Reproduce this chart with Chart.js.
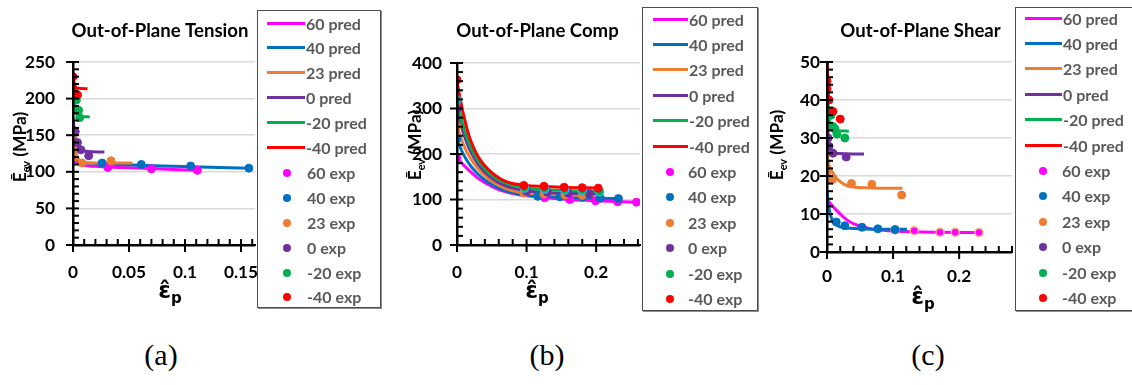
<!DOCTYPE html>
<html><head><meta charset="utf-8">
<script src="https://cdn.jsdelivr.net/npm/chart.js@4.4.1/dist/chart.umd.min.js"></script>
<style>
html,body{margin:0;padding:0;background:#fff;}
body{width:1132px;height:385px;position:relative;overflow:hidden;font-family:Lato,'DejaVu Sans',sans-serif;}
canvas.panel{position:absolute;top:0;}
.legend{position:absolute;background:#fff;border:1px solid #4d4d4d;box-shadow:1px 1px 0 #8c8c8c;box-sizing:border-box;overflow:hidden;}
.row{position:absolute;left:0;right:0;height:25px;}
.row .txt{position:absolute;top:0;line-height:25px;font-weight:bold;color:#595959;white-space:nowrap;}
.row .ln{position:absolute;top:11px;height:3px;}
.row .dot{position:absolute;top:9px;width:8px;height:8px;border-radius:50%;}
.caption{position:absolute;top:338px;font-family:'Liberation Serif','Times New Roman',serif;font-size:30px;transform:translateX(-50%);color:#000;}
</style></head><body>
<canvas id="cA" class="panel" width="380" height="320" style="left:0px"></canvas>
<canvas id="cB" class="panel" width="380" height="320" style="left:380px"></canvas>
<canvas id="cC" class="panel" width="372" height="320" style="left:760px"></canvas>
<div class="caption" style="left:161px">(a)</div>
<div class="caption" style="left:547px">(b)</div>
<div class="caption" style="left:928px">(c)</div>
<script>
// ---------- series names ----------
const seriesNames = ['60', '40', '23', '0', '-20', '-40'];

// ---------- (a) Out-of-Plane Tension ----------
const tensionPred60  = [[0,119],[0.003,113],[0.006,110],[0.01,108.5],[0.02,107.5],[0.031,106.5],[0.05,105.5],[0.07,104.5],[0.09,103],[0.111,102]];
const tensionPred40  = [[0,126],[0.002,120],[0.005,115],[0.01,112.5],[0.02,111.5],[0.04,110],[0.06,109],[0.08,108],[0.105,107],[0.157,105]];
const tensionPred23  = [[0,140],[0.002,128],[0.004,120],[0.008,113],[0.015,112],[0.053,112]];
const tensionPred0   = [[0,175],[0.001,160],[0.002,148],[0.004,136],[0.007,130],[0.012,128],[0.028,127]];
const tensionPredM20 = [[0,200],[0.001,190],[0.002,183],[0.004,177],[0.007,175.5],[0.015,175]];
const tensionPredM40 = [[0,230],[0.001,222],[0.002,216],[0.004,214],[0.013,213.5]];
const tensionExp60   = [[0,118],[0.031,106],[0.07,104],[0.111,102]];
const tensionExp40   = [[0.026,112],[0.061,110],[0.105,108],[0.157,105]];
const tensionExp23   = [[0,150],[0,134],[0.001,120],[0.008,112],[0.034,115]];
const tensionExp0    = [[0.002,155],[0.004,140],[0.007,130],[0.014,122]];
const tensionExpM20  = [[0.003,198],[0.005,184],[0.006,174]];
const tensionExpM40  = [[0,230],[0,214],[0.004,205]];
const tensionXTicks = [0, 0.05, 0.1, 0.15];
const tensionYTicks = [0, 50, 100, 150, 200, 250];

// ---------- (b) Out-of-Plane Comp ----------
const compPred60  = [[0,191],[0.005,183],[0.01,175],[0.02,160],[0.03,147],[0.04,137],[0.05,129],[0.06,122],[0.07,117],[0.08,113],[0.1,108],[0.12,105],[0.15,101],[0.2,97],[0.258,94]];
const compPred40  = [[0,233],[0.005,213],[0.01,197],[0.015,184],[0.02,173],[0.03,156],[0.04,143],[0.05,133],[0.06,125],[0.07,119],[0.08,115],[0.1,110],[0.12,107],[0.15,105],[0.2,103],[0.235,102]];
const compPred23  = [[0,262],[0.005,238],[0.01,218],[0.015,202],[0.02,189],[0.03,168],[0.04,152],[0.05,140],[0.06,131],[0.07,124],[0.08,119],[0.1,114],[0.12,112],[0.15,110],[0.2,109]];
const compPred0   = [[0,300],[0.005,268],[0.01,242],[0.015,221],[0.02,204],[0.03,178],[0.04,160],[0.05,147],[0.06,137],[0.07,130],[0.08,125],[0.1,119],[0.12,116],[0.15,114],[0.2,113]];
const compPredM20 = [[0,320],[0.005,285],[0.01,256],[0.015,233],[0.02,214],[0.03,186],[0.04,167],[0.05,153],[0.06,143],[0.07,136],[0.08,131],[0.1,125],[0.12,122],[0.15,120],[0.205,118]];
const compPredM40 = [[0,360],[0.005,318],[0.01,282],[0.015,252],[0.02,228],[0.03,195],[0.04,174],[0.05,159],[0.06,148],[0.07,140],[0.08,135],[0.1,131],[0.12,129],[0.15,127],[0.205,125]];
const compExp60  = [[0,191],[0.126,104],[0.162,100],[0.199,97],[0.231,95],[0.258,94]];
const compExp40  = [[0,233],[0.116,107],[0.148,106],[0.18,105],[0.206,103],[0.232,102]];
const compExp23  = [[0,261],[0.096,114],[0.125,112],[0.155,110],[0.18,109]];
const compExp0   = [[0,300],[0.1,118],[0.13,116],[0.16,114],[0.19,113]];
const compExpM20 = [[0,319],[0.097,125],[0.126,123],[0.155,121],[0.18,120],[0.205,117]];
const compExpM40 = [[0,363],[0.096,131],[0.125,129],[0.154,127],[0.18,126],[0.203,125]];
const compXTicks = [0, 0.1, 0.2];
const compYTicks = [0, 100, 200, 300, 400];

// ---------- (c) Out-of-Plane Shear ----------
const shearPred60  = [[0,14],[0.005,12.8],[0.01,11.8],[0.017,10.5],[0.025,9.2],[0.035,7.9],[0.045,7.1],[0.055,6.6],[0.07,6],[0.085,5.7],[0.1,5.5],[0.13,5.3],[0.17,5.2],[0.23,5.1]];
const shearPred40  = [[0,16],[0.002,12.5],[0.005,10],[0.008,8.3],[0.012,7.3],[0.02,6.6],[0.04,6.2],[0.08,6],[0.121,6]];
const shearPred23  = [[0,27],[0.002,23.5],[0.005,22],[0.01,20.5],[0.015,19.3],[0.02,18.5],[0.03,17.5],[0.04,17.1],[0.06,16.9],[0.08,16.8],[0.114,16.8]];
const shearPred0   = [[0,40],[0.001,33],[0.003,28],[0.006,26.5],[0.01,26],[0.056,25.8]];
const shearPredM20 = [[0,50],[0.001,44],[0.002,38],[0.004,34],[0.008,32.5],[0.015,32],[0.033,31.8]];
const shearPredM40 = [[0.0005,50],[0.001,46],[0.002,42],[0.003,40]];
const shearExp60  = [[0.103,5.8],[0.132,5.6],[0.171,5.2],[0.194,5.2],[0.23,5.1]];
const shearExp40  = [[0.014,7.9],[0.027,6.9],[0.053,6.5],[0.077,6.1],[0.103,5.9]];
const shearExp23  = [[0,21],[0.008,19],[0.037,18],[0.068,17.8],[0.113,15]];
const shearExp0   = [[0.0015,30],[0.003,27.8],[0.009,26],[0.029,25]];
const shearExpM20 = [[0.006,36],[0.009,33],[0.012,32.4],[0.015,31],[0.027,30]];
const shearExpM40 = [[0,45],[0,43],[0.003,40],[0.009,37],[0.02,35]];
const shearXTicks = [0, 0.1, 0.2];
const shearYTicks = [0, 10, 20, 30, 40, 50];

// ---------- styles ----------
const seriesColors = ['#FF00FF', '#0070C0', '#ED7D31', '#7030A0', '#00B050', '#FF0000'];
const FONT = "Lato, 'DejaVu Sans', sans-serif";

// fit font sizes to the widths measured on the reference
const mctx = document.createElement('canvas').getContext('2d');
function fitSize(text, weight, family, target){
  mctx.font = weight + ' 100px ' + family;
  return 100 * target / mctx.measureText(text).width;
}
const TICK_SIZE   = fitSize('250', 'bold', FONT, 30);
const TITLE_SIZE  = fitSize('Out-of-Plane Tension', 'bold', FONT, 177);
const LEGEND_SIZE = fitSize('60 pred', 'bold', FONT, 55);
const YT_SIZE     = fitSize('(MPa)', 'bold', FONT, 45);

function toXY(arr){ return arr.map(p => ({x: p[0], y: p[1]})); }

function buildDatasets(pred, exp, expBorders){
  const ds = [];
  pred.forEach((d, i) => ds.push({
    label: seriesNames[i] + ' pred', kind: 'pred', data: toXY(d), showLine: true,
    borderColor: seriesColors[i], backgroundColor: seriesColors[i], borderWidth: 3,
    pointRadius: 0, pointHoverRadius: 0, cubicInterpolationMode: 'monotone'
  }));
  exp.forEach((d, i) => ds.push({
    label: seriesNames[i] + ' exp', kind: 'exp', data: toXY(d), showLine: false,
    backgroundColor: seriesColors[i], borderColor: (expBorders && expBorders[i]) || seriesColors[i],
    borderWidth: (expBorders && expBorders[i]) ? 1.5 : 1, pointRadius: 4
  }));
  ds.forEach((d, i) => d.order = ds.length - i); // later series drawn on top (Excel order)
  return ds;
}

function drawRich(ctx, parts, cx, baseY){
  let w = 0;
  parts.forEach(p => { ctx.font = p.f; p.w = ctx.measureText(p.t).width; w += p.w; });
  let x = cx - w / 2;
  ctx.textAlign = 'left';
  parts.forEach(p => { ctx.font = p.f; ctx.fillText(p.t, x, baseY + (p.dy || 0)); x += p.w; });
}

function drawAxes(chart, cfg){
  const ctx = chart.ctx;
  const area = chart.chartArea;
  const xs = chart.scales.x, ys = chart.scales.y;
  const ax = Math.round(area.left), ay = Math.round(area.bottom), ar = area.right, at = area.top;
  ctx.save();
  ctx.fillStyle = '#000000';
  // axis lines
  ctx.fillRect(ax - 1, at - 1, 2.5, ay - at + 2);
  ctx.fillRect(ax - 1, ay - 1, ar - ax + 1, 2.5);
  // y axis: major ticks cross the axis, minor ticks inside
  const ny = Math.round(cfg.yMax / cfg.yMinor);
  for (let k = 0; k <= ny; k++) {
    const p = ys.getPixelForValue(k * cfg.yMinor);
    if (k % 5 === 0) ctx.fillRect(ax - 7, p - 1, 13, 2);
    else ctx.fillRect(ax, p - 1, 6, 2);
  }
  // x axis
  const nx = Math.floor(cfg.xMax / cfg.xMinor + 1e-6);
  for (let k = 0; k <= nx; k++) {
    const p = xs.getPixelForValue(k * cfg.xMinor);
    if (k % 5 === 0) ctx.fillRect(p - 1, ay - 6, 2, 13);
    else ctx.fillRect(p - 1, ay - 6, 2, 6);
  }
  ctx.restore();
}

function makeDecor(cfg){
  return {
    id: 'decor' + cfg.key,
    afterDatasetsDraw(chart){ drawAxes(chart, cfg); },
    afterDraw(chart){
      const ctx = chart.ctx;
      ctx.save();
      ctx.fillStyle = '#000000';
      ctx.textBaseline = 'middle';
      ctx.textAlign = 'center';
      ctx.font = 'bold ' + TITLE_SIZE + 'px ' + FONT;
      ctx.fillText(cfg.title, cfg.titlePos[0], cfg.titlePos[1]);
      ctx.textBaseline = 'alphabetic';
      ctx.save();
      ctx.translate(cfg.yTitle[0], cfg.yTitle[1]);
      ctx.rotate(-Math.PI / 2);
      drawRich(ctx, [
        {t: '\u0112', f: 'bold ' + YT_SIZE + 'px ' + FONT},
        {t: 'ev', f: 'bold ' + (YT_SIZE * 0.62) + 'px ' + FONT, dy: 4},
        {t: ' (MPa)', f: 'bold ' + YT_SIZE + 'px ' + FONT}
      ], 0, 6);
      ctx.restore();
      drawRich(ctx, [
        {t: '\u03B5\u0302', f: "bold 23px 'DejaVu Sans'"},
        {t: 'p', f: "bold 15px 'DejaVu Sans'", dy: 5}
      ], cfg.xTitle[0], cfg.xTitle[1] + 6);
      ctx.restore();
    }
  };
}

function tickFmt(v){ return String(+v.toFixed(4)); }

function makeChart(id, cfg){
  const canvas = document.getElementById(id);
  const W = canvas.width, H = canvas.height, xh = 50;
  const font = {family: FONT, weight: 'bold', size: TICK_SIZE};
  cfg.key = id;
  return new Chart(canvas, {
    type: 'scatter',
    data: {datasets: buildDatasets(cfg.pred, cfg.exp, cfg.expBorders)},
    plugins: [makeDecor(cfg)],
    options: {
      responsive: false, animation: false, events: [],
      layout: {padding: {left: 0, right: W - cfg.area.R, top: cfg.area.T, bottom: H - cfg.area.B - xh}},
      plugins: {legend: {display: false}, tooltip: {enabled: false}, title: {display: false}},
      scales: {
        x: {type: 'linear', min: 0, max: cfg.xMax,
            afterBuildTicks: s => { s.ticks = cfg.xTicks.map(v => ({value: v})); },
            afterFit: s => { s.height = xh; },
            ticks: {font, color: '#000', padding: cfg.xPad, maxRotation: 0, autoSkip: false, callback: tickFmt},
            grid: {display: false, drawTicks: false},
            border: {display: true, color: '#000', width: 2}},
        y: {type: 'linear', min: 0, max: cfg.yMax,
            afterBuildTicks: s => { s.ticks = cfg.yTicks.map(v => ({value: v})); },
            afterFit: s => { s.width = cfg.area.L; },
            ticks: {font, color: '#000', padding: cfg.yPad, callback: tickFmt},
            grid: {color: '#d9d9d9', lineWidth: 1.5, drawTicks: false},
            border: {display: true, color: '#000', width: 2}}
      }
    }
  });
}

function makeLegend(chart, box){
  const div = document.createElement('div');
  div.className = 'legend';
  Object.assign(div.style, {left: box.left + 'px', top: box.top + 'px', width: box.w + 'px', height: box.h + 'px'});
  chart.data.datasets.forEach((d, i) => {
    const row = document.createElement('div');
    row.className = 'row';
    row.style.top = (box.first + i * box.step - 12.5) + 'px';
    if (d.kind === 'pred') {
      const ln = document.createElement('div');
      ln.className = 'ln';
      Object.assign(ln.style, {left: box.l1 + 'px', width: (box.l2 - box.l1) + 'px', background: d.borderColor});
      row.appendChild(ln);
    } else {
      const dot = document.createElement('div');
      dot.className = 'dot';
      Object.assign(dot.style, {left: (box.dot - 4) + 'px', background: d.backgroundColor});
      row.appendChild(dot);
    }
    const t = document.createElement('div');
    t.className = 'txt';
    t.style.left = (d.kind === 'pred' ? box.tp : box.te) + 'px';
    t.style.fontSize = LEGEND_SIZE + 'px';
    t.textContent = d.label;
    row.appendChild(t);
    div.appendChild(row);
  });
  document.body.appendChild(div);
}

const chartA = makeChart('cA', {
  title: 'Out-of-Plane Tension', titlePos: [160, 31],
  pred: [tensionPred60, tensionPred40, tensionPred23, tensionPred0, tensionPredM20, tensionPredM40],
  exp: [tensionExp60, tensionExp40, tensionExp23, tensionExp0, tensionExpM20, tensionExpM40],
  xTicks: tensionXTicks, yTicks: tensionYTicks, xMax: 0.1625, yMax: 250, xMinor: 0.01, yMinor: 10,
  area: {L: 73, R: 255, T: 62, B: 245}, xPad: 17, yPad: 18,
  yTitle: [20, 147], xTitle: [170, 292]
});
const chartB = makeChart('cB', {
  title: 'Out-of-Plane Comp', titlePos: [157.5, 31],
  pred: [compPred60, compPred40, compPred23, compPred0, compPredM20, compPredM40],
  exp: [compExp60, compExp40, compExp23, compExp0, compExpM20, compExpM40],
  expBorders: [null, null, null, null, '#22B8E0', null],
  xTicks: compXTicks, yTicks: compYTicks, xMax: 0.263, yMax: 400, xMinor: 0.02, yMinor: 20,
  area: {L: 77, R: 260, T: 63, B: 245}, xPad: 17, yPad: 15,
  yTitle: [35, 145], xTitle: [157, 292]
});
const chartC = makeChart('cC', {
  title: 'Out-of-Plane Shear', titlePos: [160.5, 31],
  pred: [shearPred60, shearPred40, shearPred23, shearPred0, shearPredM20, shearPredM40],
  exp: [shearExp60, shearExp40, shearExp23, shearExp0, shearExpM20, shearExpM40],
  expBorders: ['#F4B183', null, null, null, null, null],
  xTicks: shearXTicks, yTicks: shearYTicks, xMax: 0.28, yMax: 50, xMinor: 0.02, yMinor: 2,
  area: {L: 67, R: 252, T: 62, B: 252}, xPad: 14, yPad: 7,
  yTitle: [17, 145], xTitle: [163, 298]
});

makeLegend(chartA, {left: 257, top: 10, w: 124, h: 298, first: 12, step: 24.9, l1: 9, l2: 47, dot: 29, tp: 48, te: 49});
makeLegend(chartB, {left: 642, top: 7, w: 116, h: 304, first: 11, step: 25.4, l1: 10, l2: 45, dot: 27, tp: 46, te: 45});
makeLegend(chartC, {left: 1015, top: 7, w: 125, h: 304, first: 10, step: 25.4, l1: 9, l2: 46, dot: 27, tp: 47, te: 46});
</script>
</body></html>
